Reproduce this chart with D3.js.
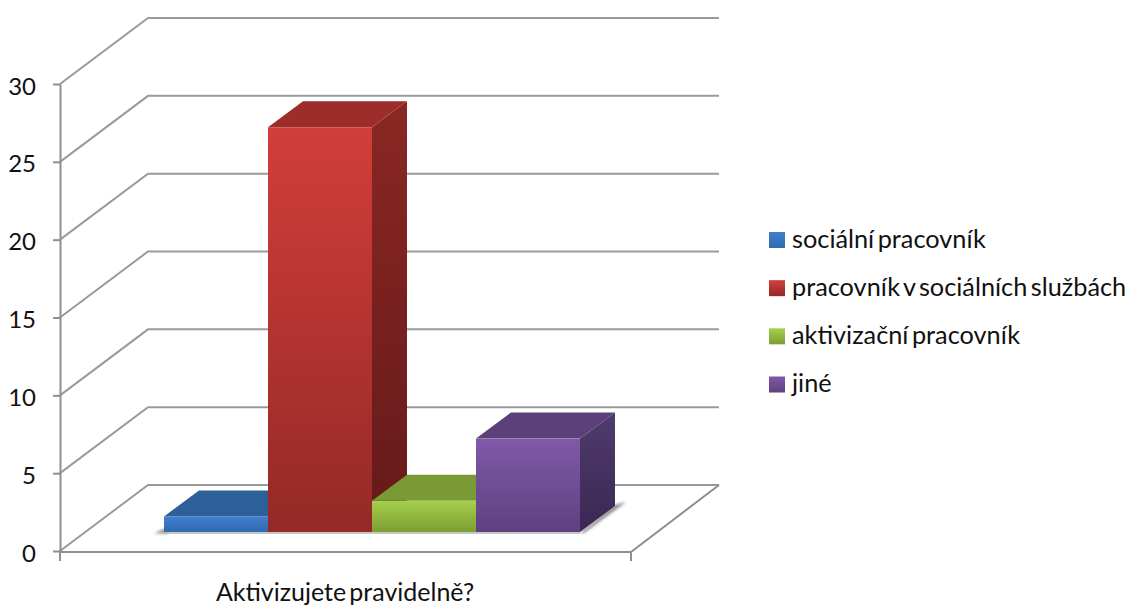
<!DOCTYPE html>
<html><head><meta charset="utf-8">
<script src="https://cdn.jsdelivr.net/npm/d3@7/dist/d3.min.js"></script>
<style>html,body{margin:0;background:#fff}svg{display:block}text{font-family:Lato,"Open Sans",sans-serif;fill:#111}</style>
</head><body><div id="c"></div>
<script>
const categoryLabel = "Aktivizujete pravidelně?";
const seriesNames = ["sociální pracovník","pracovník v sociálních službách","aktivizační pracovník","jiné"];
const seriesValues = [1,26,2,6];
const tickValues = [0,5,10,15,20,25,30];
const frontColors = [["#417fcf","#2f69ae"],["#d23e39","#942927"],["#a4d04c","#7c9e32"],["#8059a9","#5f407f"]];
const topColors = ["#2d5f98","#9c2d2b","#7a9a35","#5c4079"];
const sideColors = [["#2a5a90","#1f4470"],["#8a2724","#65191a"],["#6f8c30","#566d24"],["#503b6e","#3b2752"]];

const W=1129,H=606;
const svg=d3.select("#c").append("svg").attr("width",W).attr("height",H);
const defs=svg.append("defs");
const y=d3.scaleLinear().domain([0,30]).range([551,84]);
const x=d3.scaleBand().domain(seriesNames).range([164,580]).padding(0);
const floorX=[60,631], wall={dx:88,dy:-66}, bar={dx:35,dy:-26,base:-19};
const grey="#9a9a9a";

seriesNames.forEach((s,i)=>{
  const f=defs.append("linearGradient").attr("id","f"+i).attr("x1",0).attr("y1",0).attr("x2",0).attr("y2",1);
  f.append("stop").attr("offset",0).attr("stop-color",frontColors[i][0]);
  f.append("stop").attr("offset",1).attr("stop-color",frontColors[i][1]);
  const g=defs.append("linearGradient").attr("id","s"+i).attr("x1",0).attr("y1",0).attr("x2",0).attr("y2",1);
  g.append("stop").attr("offset",0).attr("stop-color",sideColors[i][0]);
  g.append("stop").attr("offset",1).attr("stop-color",sideColors[i][1]);
});
const blur=defs.append("filter").attr("id","blur").attr("x","-50%").attr("y","-50%").attr("width","200%").attr("height","200%");
blur.append("feGaussianBlur").attr("stdDeviation",1.6);

// gridlines on wall and side wall
const grid=svg.append("g").attr("fill","none").attr("stroke",grey).attr("stroke-width",2);
tickValues.forEach(t=>{
  grid.append("polyline").attr("points",[[floorX[0],y(t)],[floorX[0]+wall.dx,y(t)+wall.dy],[719,y(t)+wall.dy]].join(" "));
});
// floor
grid.append("polyline").attr("points",[[floorX[0],y(0)+1],[floorX[1],y(0)+1],[719,y(0)+wall.dy]].join(" ")).attr("stroke","#8f8f8f");
grid.append("line").attr("x1",floorX[1]).attr("x2",floorX[1]).attr("y1",y(0)).attr("y2",y(0)+10).attr("stroke","#8f8f8f");

// y axis
const ax=svg.append("g").attr("transform",`translate(${floorX[0]},0)`)
  .call(d3.axisLeft(y).tickValues(tickValues).tickSize(7).tickSizeOuter(0).tickPadding(17));
ax.selectAll("path,line").attr("stroke","#8f8f8f").attr("stroke-width",2);
ax.selectAll("text").attr("font-size",24).attr("font-family","Lato").attr("fill","#111").attr("dy","0.42em");
svg.append("line").attr("x1",floorX[0]).attr("x2",floorX[0]).attr("y1",y(0)).attr("y2",y(0)+10).attr("stroke","#8f8f8f").attr("stroke-width",2);

// shadows
const baseY=y(0)+bar.base;
const firstX=x(seriesNames[0]), lastX=x(seriesNames[3])+x.bandwidth();
svg.append("polygon").attr("filter","url(#blur)").attr("fill","#777").attr("opacity",.8)
  .attr("points",[[firstX-10,baseY+1.5],[firstX+4,baseY-5],[firstX+4,baseY+1.5]].join(" "));
svg.append("polygon").attr("filter","url(#blur)").attr("fill","#666").attr("opacity",.8)
  .attr("points",[[lastX,baseY+1],[lastX+bar.dx,baseY-27],[lastX+bar.dx+11,baseY-30],[lastX+4,baseY+1]].join(" "));
svg.append("line").attr("x1",firstX).attr("x2",lastX).attr("y1",baseY+1).attr("y2",baseY+1).attr("stroke","#b5b5b5").attr("stroke-width",1.5);

// bars
const vscale=d=>y(d)-y(0);
seriesNames.forEach((s,i)=>{
  const x0=x(s),x1=x0+x.bandwidth(),h=vscale(seriesValues[i]),t=baseY+h;
  const g=svg.append("g");
  g.append("polygon").attr("fill",`url(#s${i})`).attr("points",[[x1,t],[x1+bar.dx,t+bar.dy],[x1+bar.dx,baseY+bar.dy],[x1,baseY]].join(" "));
  g.append("polygon").attr("fill",topColors[i]).attr("points",[[x0,t],[x0+bar.dx,t+bar.dy],[x1+bar.dx,t+bar.dy],[x1,t]].join(" "));
  g.append("rect").attr("x",x0).attr("y",t).attr("width",x.bandwidth()).attr("height",-h).attr("fill",`url(#f${i})`);
});

// category label
svg.append("text").attr("x",345).attr("y",601).attr("text-anchor","middle").attr("font-size",25).attr("word-spacing",-3.3).text(categoryLabel);

// legend
const legendY=d3.scalePoint().domain(seriesNames).range([240,384.5]);
const lg=svg.append("g").selectAll("g").data(seriesNames).join("g").attr("transform",d=>`translate(769,${legendY(d)})`);
lg.append("rect").attr("y",-8).attr("width",16).attr("height",16).attr("fill",(d,i)=>`url(#f${i})`);
lg.append("text").attr("x",23).attr("y",7.5).attr("font-size",25.3).attr("word-spacing",-3).text(d=>d);
</script></body></html>
